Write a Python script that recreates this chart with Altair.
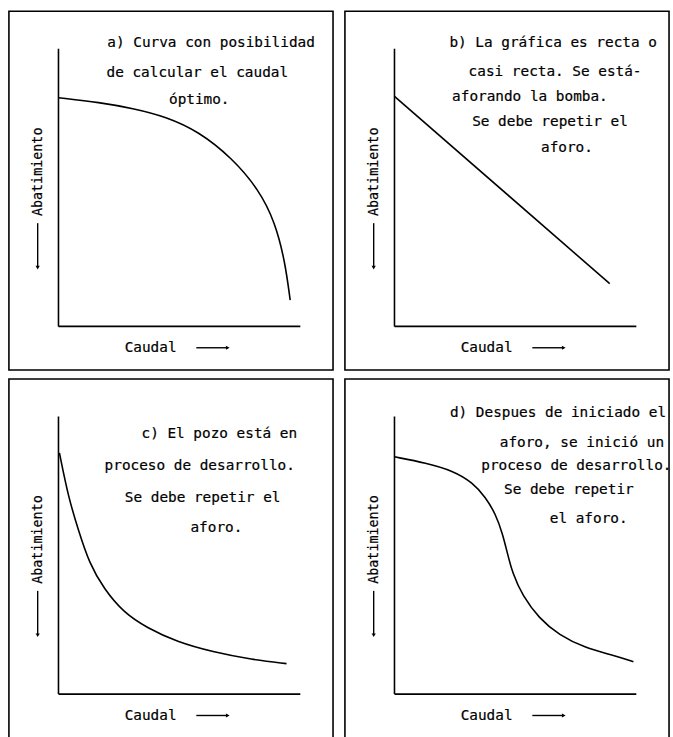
import altair as alt
import pandas as pd

# ---------------- data (normalized: caudal 0-1, abatimiento 0-1) ----------------
panels = ["a", "b", "c", "d"]

caudal_a = [0.0, 0.171, 0.307, 0.444, 0.581, 0.717, 0.828, 0.896, 0.937, 0.958]
abat_a = [0.824, 0.807, 0.786, 0.756, 0.702, 0.607, 0.494, 0.375, 0.232, 0.095]

caudal_b = [0.0, 0.89]
abat_b = [0.829, 0.154]

caudal_c = [0.004, 0.041, 0.082, 0.127, 0.188, 0.269, 0.367, 0.490, 0.637, 0.800, 0.943]
abat_c = [0.869, 0.709, 0.592, 0.472, 0.379, 0.294, 0.238, 0.188, 0.152, 0.124, 0.110]

caudal_d = [0.0, 0.131, 0.242, 0.324, 0.377, 0.418, 0.447, 0.467, 0.488, 0.529,
            0.598, 0.680, 0.787, 0.898, 0.988]
abat_d = [0.855, 0.833, 0.805, 0.762, 0.709, 0.649, 0.578, 0.507, 0.436, 0.355,
          0.273, 0.213, 0.167, 0.142, 0.117]

texts_a = ["a) Curva con posibilidad", "de calcular el caudal", "óptimo."]
texts_b = ["b) La gráfica es recta o", "casi recta. Se está-", "aforando la bomba.",
           "Se debe repetir el", "aforo."]
texts_c = ["c) El pozo está en", "proceso de desarrollo.", "Se debe repetir el", "aforo."]
texts_d = ["d) Despues de iniciado el", "aforo, se inició un", "proceso de desarrollo.",
           "Se debe repetir", "el aforo."]

x_label = "Caudal"
y_label = "Abatimiento"

# ---------------- layout (annotation placement, data units) ----------------
text_pos = {
    "a": ([0.631, 0.574, 0.582], [1.02, 0.914, 0.814]),
    "b": ([0.656, 0.664, 0.56, 0.643, 0.713], [1.022, 0.918, 0.825, 0.738, 0.641]),
    "c": ([0.665, 0.584, 0.596, 0.653], [0.938, 0.822, 0.708, 0.600]),
    "d": ([0.676, 0.775, 0.752, 0.721, 0.803], [1.012, 0.904, 0.821, 0.736, 0.632]),
}

curves = {"a": (caudal_a, abat_a), "b": (caudal_b, abat_b),
          "c": (caudal_c, abat_c), "d": (caudal_d, abat_d)}
texts = {"a": texts_a, "b": texts_b, "c": texts_c, "d": texts_d}

xs = alt.Scale(domain=[-50 / 244, 277 / 244], nice=False, zero=False)
ys = alt.Scale(domain=[-44 / 280, 318 / 280], nice=False, zero=False)
X = alt.X("x:Q", scale=xs, axis=None)
Y = alt.Y("y:Q", scale=ys, axis=None)
FONT = "DejaVu Sans Mono"


def panel(p):
    cx, cy = curves[p]
    curve_df = pd.DataFrame({"x": cx, "y": cy, "i": range(len(cx))})
    tx, ty = text_pos[p]
    note_df = pd.DataFrame({"x": tx, "y": ty, "text": texts[p]})
    axis_df = pd.DataFrame({"x": [0.0, 0.0], "y": [0.0, 0.0], "x2": [1.0, 0.0], "y2": [0.0, 1.0]})
    arrow_df = pd.DataFrame({"x": [0.57, -0.086], "y": [-0.077, 0.372],
                             "x2": [0.70, -0.086], "y2": [-0.077, 0.215]})
    xlab_df = pd.DataFrame({"x": [0.381], "y": [-0.079], "text": [x_label]})
    ylab_df = pd.DataFrame({"x": [-0.086], "y": [0.557], "text": [y_label]})
    headr_df = pd.DataFrame({"x": [0.70], "y": [-0.077]})
    headd_df = pd.DataFrame({"x": [-0.086], "y": [0.212]})

    axes = alt.Chart(axis_df).mark_rule(color="black", strokeWidth=1.6).encode(
        x=X, y=Y, x2="x2:Q", y2="y2:Q")
    arrows = alt.Chart(arrow_df).mark_rule(color="black", strokeWidth=1.4).encode(
        x=X, y=Y, x2="x2:Q", y2="y2:Q")
    head_r = alt.Chart(headr_df).mark_point(shape="triangle-right", filled=True,
                                            color="black", size=18, opacity=1).encode(x=X, y=Y)
    head_d = alt.Chart(headd_df).mark_point(shape="triangle-down", filled=True,
                                            color="black", size=18, opacity=1).encode(x=X, y=Y)
    line = alt.Chart(curve_df).mark_line(color="black", strokeWidth=1.6,
                                         interpolate="basis").encode(x=X, y=Y, order="i:Q")
    notes = alt.Chart(note_df).mark_text(font=FONT, fontSize=14.5, align="center",
                                         baseline="middle", color="black",
                                         stroke="black", strokeWidth=0.2).encode(
        x=X, y=Y, text="text:N")
    xlab = alt.Chart(xlab_df).mark_text(font=FONT, fontSize=14.5, align="center",
                                        baseline="middle", color="black",
                                        stroke="black", strokeWidth=0.2).encode(
        x=X, y=Y, text="text:N")
    ylab = alt.Chart(ylab_df).mark_text(font=FONT, fontSize=13.5, align="center",
                                        baseline="middle", angle=270, color="black",
                                        stroke="black", strokeWidth=0.2).encode(
        x=X, y=Y, text="text:N")
    return alt.layer(axes, arrows, head_r, head_d, line, notes, xlab, ylab).properties(
        width=327, height=362)


top = alt.hconcat(panel("a"), panel("b"), spacing=10)
bottom = alt.hconcat(panel("c"), panel("d"), spacing=10)

chart = alt.vconcat(top, bottom, spacing=7).properties(
    padding={"left": 8, "top": 7, "right": 0, "bottom": 0},
    background="white",
).configure_view(
    stroke="black", strokeWidth=1.6
)

chart.save("out.html", embed_options={"renderer": "svg", "actions": False})
